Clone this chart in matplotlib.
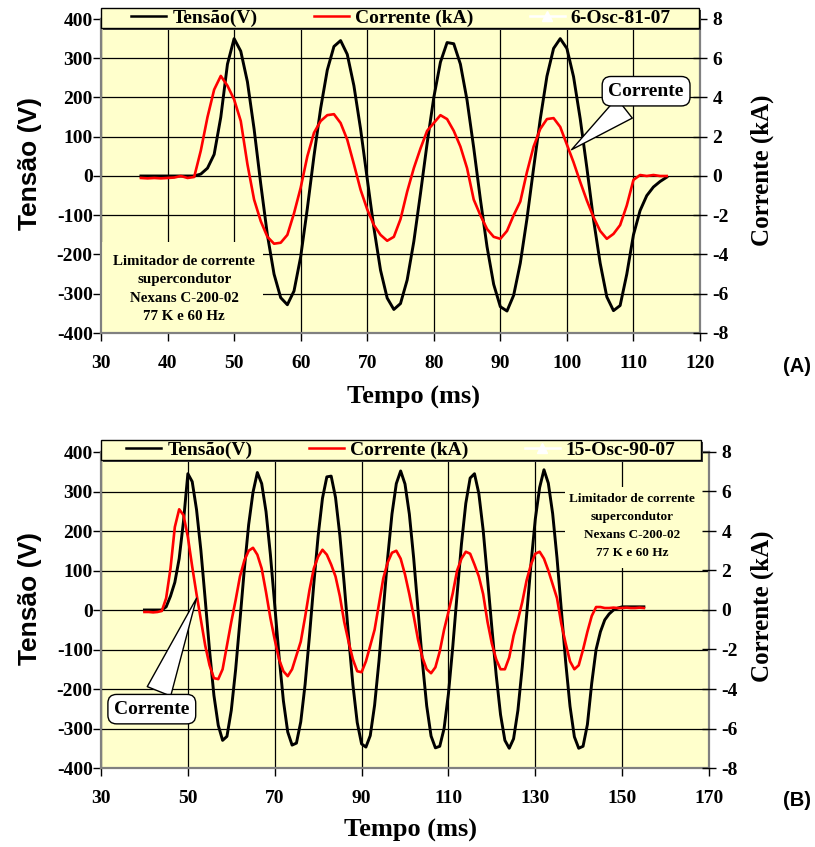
import numpy as np
import matplotlib.pyplot as plt
from matplotlib.patches import Rectangle
from matplotlib.lines import Line2D

plt.rcParams['font.family'] = ['Liberation Serif', 'DejaVu Serif']
plt.rcParams['font.weight'] = 'bold'
plt.rcParams['axes.labelweight'] = 'bold'
plt.rcParams['axes.unicode_minus'] = False

# ---------------- data ----------------
# Panel A : 6-Osc-81-07
t_a = np.arange(36, 116)  # ms
v_a = [0, 0, 0, 0, 0, 0, 0, 0, 0,
       5, 20, 55, 150, 285, 350, 318, 240, 120, -20,
       -150, -250, -310, -328, -293, -206, -83, 51, 172, 270,
       330, 345, 310, 230, 120, -7, -132, -240, -311, -340,
       -325, -265, -167, -45, 83, 200, 290, 340, 337, 285,
       193, 72, -59, -180, -276, -333, -344, -304, -222, -109,
       20, 145, 254, 325, 350, 325, 253, 146, 21, -111,
       -222, -308, -343, -330, -250, -150, -88, -50, -28, -14,
       -3]
i_a = [-0.10, -0.12, -0.10, -0.12, -0.10, -0.08, 0.00, -0.10, -0.05,
       1.3, 3.0, 4.4, 5.1, 4.6, 3.9, 2.8, 0.6, -1.2, -2.3,
       -3.1, -3.45, -3.4, -3.0, -1.9, -0.6, 1.0, 2.2, 2.8, 3.1,
       3.15, 2.7, 1.85, 0.6, -0.7, -1.7, -2.5, -3.0, -3.3, -3.1,
       -2.2, -0.8, 0.4, 1.4, 2.3, 2.7, 3.1, 2.9, 2.3, 1.5,
       0.4, -1.2, -2.0, -2.7, -3.1, -3.2, -2.8, -2.0, -1.3, 0.2,
       1.5, 2.4, 2.9, 2.95, 2.5, 1.6, 0.7, -0.3, -1.25, -2.1,
       -2.8, -3.2, -2.95, -2.5, -1.5, -0.2, 0.05, 0.0, 0.05, 0.0,
       0.0]

# Panel B : 15-Osc-90-07
t_b = np.arange(40, 156)  # ms
v_b = [0, 0, 0, 0, 0, 8, 35, 70, 130, 225,
       345, 325, 254, 151, 26, -103, -216, -292, -330, -320,
       -254, -151, -26, 103, 216, 298, 348, 320, 249, 141,
       13, -117, -230, -309, -342, -337, -283, -188, -66, 66,
       188, 283, 337, 339, 285, 189, 66, -66, -189, -285,
       -339, -347, -318, -241, -130, 0, 131, 243, 320, 352,
       319, 243, 131, 0, -131, -243, -319, -349, -345, -300,
       -212, -93, 40, 167, 270, 334, 345, 295, 202, 80,
       -45, -165, -265, -330, -350, -326, -254, -144, -14, 115,
       230, 310, 355, 321, 244, 132, 0, -132, -244, -321,
       -350, -345, -290, -185, -100, -55, -25, -10, 0, 5,
       8, 8, 8, 8, 8, 8]
i_b = [-0.10, -0.10, -0.12, -0.10, -0.05, 0.6, 2.1, 4.2, 5.1, 4.8,
       3.7, 2.2, 0.8, -0.5, -1.8, -2.8, -3.45, -3.5, -3.0, -1.8,
       -0.6, 0.5, 1.7, 2.5, 3.0, 3.15, 2.8, 2.1, 0.9, -0.4,
       -1.5, -2.5, -3.1, -3.35, -3.0, -2.3, -1.6, -0.35, 1.0, 2.1,
       2.7, 3.05, 2.8, 2.3, 1.7, 0.7, -0.6, -1.6, -2.5, -3.1,
       -3.15, -2.6, -1.8, -1.0, 0.3, 1.6, 2.4, 2.9, 3.0, 2.6,
       1.8, 0.8, -0.3, -1.5, -2.4, -3.0, -3.2, -2.9, -2.1, -1.0,
       -0.1, 0.85, 2.0, 2.6, 2.95, 2.85, 2.3, 1.7, 0.8, -0.6,
       -1.7, -2.5, -3.0, -3.0, -2.4, -1.3, -0.5, 0.4, 1.5, 2.3,
       2.85, 2.95, 2.6, 2.0, 1.3, 0.6, -0.7, -1.7, -2.6, -3.0,
       -2.8, -2.0, -1.1, -0.3, 0.15, 0.15, 0.1, 0.1, 0.12, 0.1,
       0.1, 0.12, 0.1, 0.1, 0.12, 0.1]

xticks_a = list(range(30, 121, 10))
xticks_b = list(range(30, 171, 20))
vticks = list(range(-400, 401, 100))
iticks = list(range(-8, 9, 2))

info_text = "Limitador de corrente\nsupercondutor\nNexans C-200-02\n77 K e 60 Hz"

# ---------------- styling ----------------
BG = '#FFFFCC'
W, H = 815, 847
SANS = ['Liberation Sans', 'DejaVu Sans']

fig = plt.figure(figsize=(W / 100, H / 100), dpi=100)


def fbox(x0, y0, x1, y1):
    return [x0 / W, 1 - y1 / H, (x1 - x0) / W, (y1 - y0) / H]


def panel(px, t, v, i, xlim, xticks, leg_px, osc, tag, info_rect, info_xy,
          info_fs, info_ls, ann_xy, ann_txt, tag_y, lab):
    x0, y0, x1, y1 = px
    aw, ah = x1 - x0, y1 - y0
    ax = fig.add_axes(fbox(*px))
    ax.set_facecolor(BG)
    ax.plot(t, v, color='black', lw=2.1, zorder=3)
    ax.set_xlim(*xlim)
    ax.set_ylim(-400, 400)
    ax.set_xticks(xticks)
    ax.set_yticks(vticks)
    ax.grid(True, color='black', lw=0.9)
    ax.set_axisbelow(True)
    for s in ax.spines.values():
        s.set_color('#808080')
        s.set_linewidth(1.6)
    ax.tick_params(axis='both', direction='out', length=5.5, width=1,
                   color='black', labelsize=14)
    ax.tick_params(axis='x', pad=lab['xpad'])
    ax.tick_params(axis='y', pad=0.5)

    ax2 = ax.twinx()
    ax2.plot(t, i, color='red', lw=1.9, zorder=3)
    ax2.set_ylim(-8, 8)
    ax2.set_yticks(iticks)
    ax2.tick_params(axis='y', direction='inout', length=10, width=1,
                    color='black', labelsize=14, pad=4)
    for s in ax2.spines.values():
        s.set_visible(False)

    # info box
    rx0, ry0, rx1, ry1 = info_rect
    ax.add_patch(Rectangle(((rx0 - x0) / aw, 1 - (ry1 - y0) / ah),
                           (rx1 - rx0) / aw, (ry1 - ry0) / ah,
                           transform=ax.transAxes, fc=BG, ec='none', zorder=1))
    ax.text((info_xy[0] - x0) / aw, 1 - (info_xy[1] - y0) / ah, info_text,
            transform=ax.transAxes, ha='center', va='center',
            multialignment='center', fontsize=info_fs, linespacing=info_ls,
            fontweight='bold', zorder=4)

    # callout
    ax2.annotate('Corrente', xy=ann_xy, xytext=ann_txt, ha='center', va='center',
                 fontsize=14, fontweight='bold', zorder=8,
                 bbox=dict(boxstyle='round,pad=0.32,rounding_size=0.45',
                           fc='white', ec='black', lw=1),
                 arrowprops=dict(arrowstyle='wedge,tail_width=1.3,shrink_factor=0.5',
                                 fc='white', ec='black', lw=1, shrinkB=0))

    # labels
    ax.set_xlabel('Tempo (ms)', fontsize=19, fontweight='bold', va='center')
    ax.xaxis.set_label_coords(lab['xl'][0], lab['xl'][1])
    ax.set_ylabel('Tensão (V)', fontsize=19, family=SANS, fontweight='bold',
                  va='center')
    ax.yaxis.set_label_coords(lab['yl'][0], lab['yl'][1])
    ax2.set_ylabel('Corrente (kA)', fontsize=18, fontweight='bold', va='center')
    ax2.yaxis.set_label_coords(lab['yr'][0], lab['yr'][1])

    # legend box
    lx0, ly0, lx1, ly1 = leg_px
    fig.patches.append(Rectangle((lx0 / W + 2 / W, 1 - ly1 / H - 2 / H),
                                 (lx1 - lx0) / W, (ly1 - ly0) / H,
                                 transform=fig.transFigure, fc='#404040',
                                 ec='none', zorder=3.9))
    fig.patches.append(Rectangle((lx0 / W, 1 - ly1 / H), (lx1 - lx0) / W,
                                 (ly1 - ly0) / H, transform=fig.transFigure,
                                 fc=BG, ec='black', lw=1, zorder=4))
    handles = [Line2D([], [], color='black', lw=1.8),
               Line2D([], [], color='red', lw=1.8),
               Line2D([], [], color='white', lw=1.8, marker='^', ms=7,
                      mfc='white', mec='white')]
    fig.legend(handles, ['Tensão(V)', 'Corrente (kA)', osc], ncol=3,
               loc='center', bbox_to_anchor=(401 / W, 1 - (ly0 + ly1) / 2 / H),
               frameon=False, prop=dict(size=14, weight='bold'),
               handlelength=1.8, handletextpad=0.31, columnspacing=2.9,
               borderpad=0, numpoints=1)

    fig.text(797 / W, 1 - tag_y / H, tag, family=SANS, fontsize=14.5,
             fontweight='bold', ha='center', va='center')
    return ax, ax2


panel((101, 19, 700, 333), t_a, v_a, i_a, (30, 120), xticks_a,
      (101, 8, 699, 28), '6-Osc-81-07', '(A)',
      (101, 242, 263, 333), (184.3, 289), 10.8, 1.55,
      (100.7, 1.34), (111.9, 4.32), 367,
      dict(xpad=10.5, xl=((414 - 101) / 599, -(397 - 333) / 314),
           yl=((30 - 101) / 599, 1 - (163 - 19) / 314),
           yr=((762 - 101) / 599, 1 - (170 - 19) / 314)))

panel((101, 452, 709, 768), t_b, v_b, i_b, (30, 170), xticks_b,
      (101, 440, 701, 460), '15-Osc-90-07', '(B)',
      (565, 487, 709, 568), (632.3, 526), 9.5, 1.68,
      (52.0, 0.6), (41.7, -5.02), 800,
      dict(xpad=10, xl=((410 - 101) / 608, -(830 - 768) / 316),
           yl=((30 - 101) / 608, 1 - (598 - 452) / 316),
           yr=((762 - 101) / 608, 1 - (606 - 452) / 316)))

fig.savefig('out.png', dpi=100, facecolor='white')
